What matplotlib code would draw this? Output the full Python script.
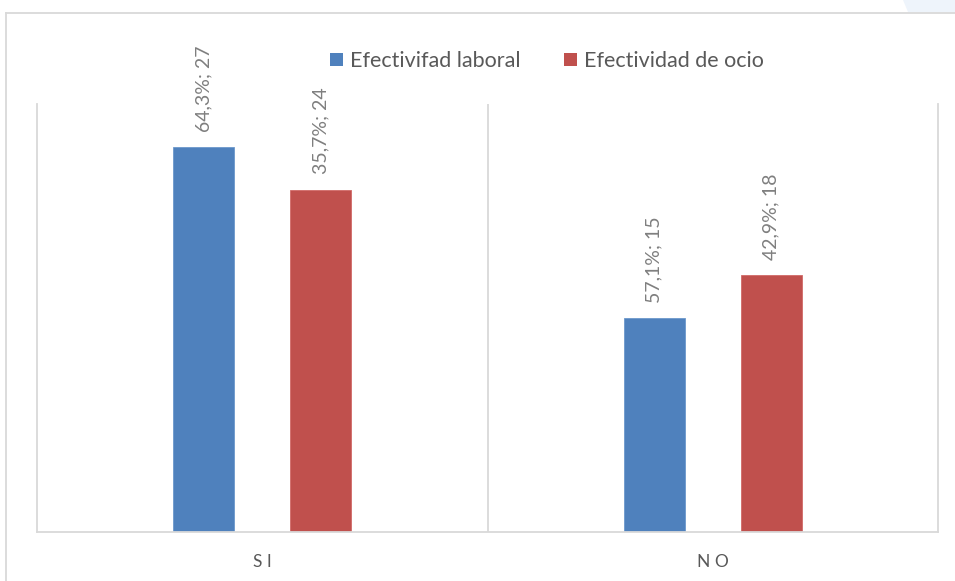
import matplotlib
matplotlib.use("Agg")
import matplotlib.pyplot as plt
from matplotlib.lines import Line2D
from matplotlib.patches import Patch, Polygon

categories = ["S I", "N O"]
series_names = ["Efectivifad laboral", "Efectividad de ocio"]
laboral = [27, 15]
ocio = [24, 18]
pct_laboral = ["64,3%", "57,1%"]
pct_ocio = ["35,7%", "42,9%"]
colors = ["#4F81BD", "#C0504D"]

W, H = 955, 581
plt.rcParams["font.family"] = ["Lato", "DejaVu Sans"]
fig = plt.figure(figsize=(W / 100, H / 100), dpi=100)

# outer chart frame (top and left edges)
frame_c = "#D9D9D9"
fig.add_artist(Line2D([6 / W, 1.0], [1 - 13 / H, 1 - 13 / H], color=frame_c, lw=1.3))
fig.add_artist(Line2D([6 / W, 6 / W], [0, 1 - 13 / H], color=frame_c, lw=1.3))
fig.add_artist(Polygon([[903 / W, 1.0], [1.0, 1.0], [1.0, 1 - 12 / H], [908 / W, 1 - 12 / H]],
                       closed=True, facecolor="#EEF4FB", edgecolor="none"))

ax = fig.add_axes([37 / W, (H - 532) / H, (938 - 37) / W, (532 - 104) / H])
x = list(range(len(categories)))
bw = 0.135
off = 0.13
b1 = ax.bar([i - off for i in x], laboral, width=bw, color=colors[0], edgecolor="#6C98CC", lw=0.6)
b2 = ax.bar([i + off for i in x], ocio, width=bw, color=colors[1], edgecolor="#D16A67", lw=0.6)

lab_c = "#7F7F7F"
for bars, pcts, vals in ((b1, pct_laboral, laboral), (b2, pct_ocio, ocio)):
    for rect, p, v in zip(bars, pcts, vals):
        ax.annotate(f"{p}; {v}", (rect.get_x() + rect.get_width() / 2, v),
                    xytext=(0, 11), textcoords="offset points", rotation=90,
                    ha="center", va="bottom", fontsize=14, color=lab_c)

ax.set_xlim(-0.5, 1.5)
ax.set_ylim(0, 30)
ax.set_yticks([])
ax.set_xticks(x)
ax.set_xticklabels(categories, fontsize=12.5, color="#595959")
ax.tick_params(axis="x", length=0, pad=16)
for s in ("left", "right", "top"):
    ax.spines[s].set_color(frame_c)
ax.spines["top"].set_visible(False)
ax.spines["bottom"].set_color(frame_c)
ax.spines["bottom"].set_linewidth(1.3)
ax.spines["left"].set_linewidth(1.3)
ax.spines["right"].set_linewidth(1.3)
ax.axvline(0.5, color=frame_c, lw=1.3)

handles = [Patch(facecolor=c, edgecolor="none") for c in colors]
fig.legend(handles, series_names, loc="center", bbox_to_anchor=(547 / W, 1 - 61 / H),
           ncol=2, frameon=False, fontsize=15.5, handlelength=0.6, handleheight=0.6,
           handletextpad=0.35, columnspacing=2.0, labelcolor="#595959")

fig.savefig("out.png", dpi=100)
